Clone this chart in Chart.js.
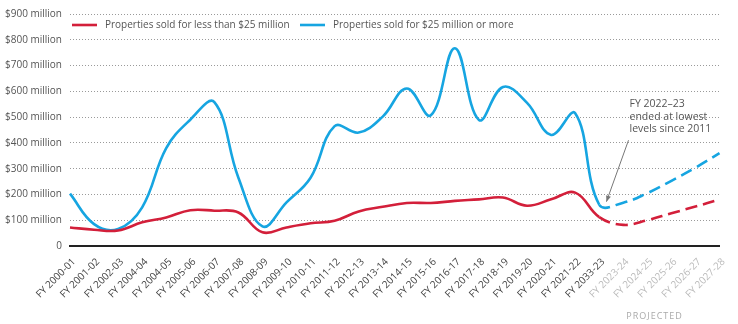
<!DOCTYPE html>
<html><head><meta charset="utf-8">
<script src="https://cdn.jsdelivr.net/npm/chart.js@4/dist/chart.umd.min.js"></script>
<style>html,body{margin:0;padding:0;background:#fff}#wrap{width:738px;height:324px;position:relative}</style>
</head><body><div id="wrap"><canvas id="c"></canvas></div>
<script>
const categories = ['FY 2000-01','FY 2001-02','FY 2002-03','FY 2004-04','FY 2004-05','FY 2005-06','FY 2006-07','FY 2007-08','FY 2008-09','FY 2009-10','FY 2010-11','FY 2011-12','FY 2012-13','FY 2013-14','FY 2014-15','FY 2015-16','FY 2016-17','FY 2017-18','FY 2018-19','FY 2019-20','FY 2020-21','FY 2021-22','FY 2033-23','FY 2023-24','FY 2024-25','FY 2025-26','FY 2026-27','FY 2027-28'];
const salesUnder25M = [72, 63, 60, 92, 111, 139, 137, 130, 53, 72, 88, 98, 134, 152, 167, 167, 175, 181, 188, 156, 181, 207, 112, 82, 100, 127, 153, 180];
const sales25MPlus = [203, 85, 66, 150, 380, 490, 558, 265, 76, 169, 265, 465, 440, 502, 611, 507, 767, 489, 617, 555, 431, 515, 160, 168, 205, 253, 304, 360];
const seriesNames = ['Properties sold for less than $25 million', 'Properties sold for $25 million or more'];
const projectedStart = 22;
const noteLines = ['FY 2022\u201323', 'ended at lowest', 'levels since 2011'];
const projectedLabel = 'PROJECTED';

const RED = '#d31f3a', BLUE = '#16a5e1';
const FONT = "'Open Sans', sans-serif";

const dashAfter = pat => ctx => ctx.p0DataIndex >= projectedStart ? pat : undefined;

const extras = {
  id: 'extras',
  afterDraw(chart) {
    const c = chart.ctx, xs = chart.scales.x, ys = chart.scales.y;
    c.save();
    // legend
    const items = [[72, RED, seriesNames[0]], [300, BLUE, seriesNames[1]]];
    c.font = '10px ' + FONT;
    c.textBaseline = 'middle';
    items.forEach(([x, col, txt]) => {
      c.strokeStyle = col; c.lineWidth = 2.6; c.lineCap = 'butt';
      c.beginPath(); c.moveTo(x, 25); c.lineTo(x + 25, 25); c.stroke();
      c.fillStyle = '#555'; c.textAlign = 'left';
      c.fillText(txt, x + 33, 25);
    });
    // annotation
    const tx = xs.getPixelForValue(23.3), ty = ys.getPixelForValue(550);
    c.fillStyle = '#555'; c.font = '10.5px ' + FONT;
    noteLines.forEach((t, i) => c.fillText(t, tx - 1, ty + i * 12.5));
    const sx = tx - 2, sy = ty + 36;
    const ex = xs.getPixelForValue(22.3), ey = ys.getPixelForValue(172);
    c.strokeStyle = '#777'; c.lineWidth = 1;
    c.beginPath(); c.moveTo(sx, sy); c.lineTo(ex, ey); c.stroke();
    const ang = Math.atan2(ey - sy, ex - sx), L = 6, W = 2.5;
    c.fillStyle = '#777';
    c.beginPath();
    c.moveTo(ex, ey);
    c.lineTo(ex - L * Math.cos(ang) + W * Math.sin(ang), ey - L * Math.sin(ang) - W * Math.cos(ang));
    c.lineTo(ex - L * Math.cos(ang) - W * Math.sin(ang), ey - L * Math.sin(ang) + W * Math.cos(ang));
    c.closePath(); c.fill();
    // projected label
    c.fillStyle = '#aaa'; c.font = '9px ' + FONT; c.textAlign = 'center';
    try { c.letterSpacing = '1px'; } catch (e) {}
    c.fillText(projectedLabel, xs.getPixelForValue(24.3), chart.height - 8);
    c.restore();
  }
};

new Chart(document.getElementById('c'), {
  type: 'line',
  data: {
    labels: categories,
    datasets: [
      { label: seriesNames[0], data: salesUnder25M, borderColor: RED, borderWidth: 2.6, pointRadius: 0, tension: 0.4, fill: false,
        segment: { borderDash: dashAfter([12, 6]) } },
      { label: seriesNames[1], data: sales25MPlus, borderColor: BLUE, borderWidth: 2.6, pointRadius: 0, tension: 0.4, fill: false,
        segment: { borderDash: dashAfter([12, 6]) } }
    ]
  },
  options: {
    responsive: true, maintainAspectRatio: false, animation: false, devicePixelRatio: 1,
    layout: { padding: { top: 11, right: 7, bottom: 0, left: 0 } },
    plugins: { legend: { display: false }, tooltip: { enabled: false } },
    scales: {
      x: {
        offset: false,
        grid: { display: false, drawTicks: false },
        border: { display: true, color: '#222', width: 2 },
        ticks: { autoSkip: false, maxRotation: 45, minRotation: 45, padding: 10, labelOffset: 4,
          font: { family: FONT, size: 10 },
          color: ctx => ctx.index > projectedStart ? '#bbb' : '#444' },
        afterFit: s => { s.height = 78; }
      },
      y: {
        min: 0, max: 900,
        grid: { color: '#9a9a9a', lineWidth: 1, drawTicks: false },
        border: { display: false, dash: [1, 2] },
        ticks: { stepSize: 100, padding: 8, font: { family: FONT, size: 10 }, color: '#555',
          callback: v => v === 0 ? '0' : '$' + v + ' million' },
        afterFit: s => { s.width = 70; }
      }
    }
  },
  plugins: [extras]
});
</script>
</body></html>
